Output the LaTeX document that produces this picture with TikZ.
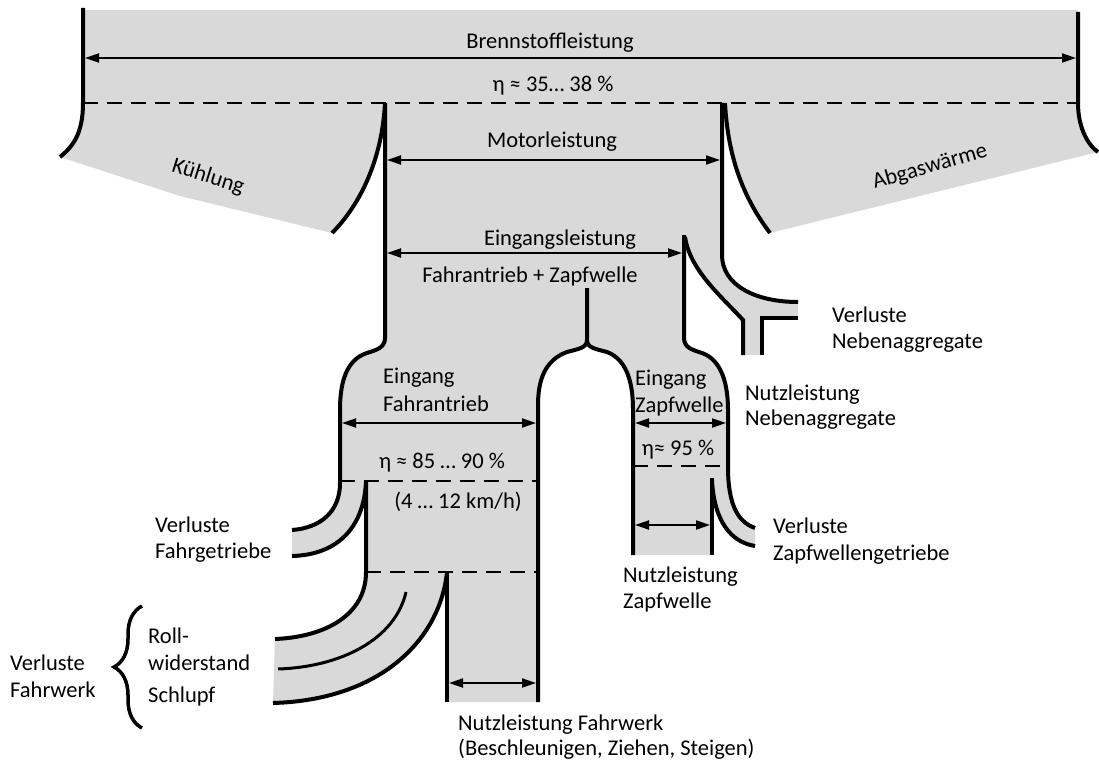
\documentclass[tikz,border=0pt]{standalone}
\usepackage{fontspec}
\setmainfont{Carlito}
\usetikzlibrary{arrows.meta,decorations.pathreplacing}
\definecolor{flow}{HTML}{D9D9D9}

\begin{document}
\begin{tikzpicture}[x=1pt,y=-1pt,
  wall/.style={line width=4pt},
  thinwall/.style={line width=3pt},
  cut/.style={line width=2.6pt, dash pattern=on 15pt off 9pt},
  dim/.style={line width=2pt, {Triangle[length=14pt,width=9pt]}-{Triangle[length=14pt,width=9pt]}},
  lbl/.style={inner sep=0pt, font=\fontsize{22.5}{27}\selectfont},
]
\useasboundingbox (0,0) rectangle (1099,762);

% ---------- grey flow areas ----------
\fill[flow] (83,10) rectangle (1078,103);
% cooling losses
\fill[flow] (83,103) .. controls (83,135) and (72,147) .. (60,157) -- (180,196) -- (332,233)
  .. controls (360,205) and (382,160) .. (385,103) -- cycle;
% exhaust heat
\fill[flow] (725,103) .. controls (728,160) and (745,200) .. (770,233) -- (1098,152)
  .. controls (1088,145) and (1078,128) .. (1078,103) -- cycle;
% engine output and its branches
\fill[flow] (385,103) -- (722,103) -- (722,255) .. controls (722,285) and (755,302) .. (798,302)
  -- (798,318) -- (762,318) -- (762,355) -- (743,355) -- (743,320)
  .. controls (720,295) and (690,270) .. (685,237) -- (684,338)
  .. controls (684,348) and (693,350) .. (702,353) .. controls (722,360) and (728,385) .. (728,410)
  -- (728,467) .. controls (728,505) and (738,522) .. (755,528) -- (755,546)
  .. controls (730,542) and (714,520) .. (712,480) -- (712,555) -- (633,555) -- (633,410)
  .. controls (633,385) and (628,360) .. (607,352) .. controls (596,349) and (587,348) .. (587,340)
  .. controls (587,348) and (578,349) .. (567,352) .. controls (545,360) and (538,380) .. (538,405)
  -- (538,702) -- (447,702) -- (447,572) .. controls (440,640) and (380,700) .. (273,703)
  -- (275,639) .. controls (325,637) and (366,615) .. (366,572) -- (366,481)
  .. controls (364,530) and (335,555) .. (292,556) -- (292,530)
  .. controls (320,528) and (340,512) .. (340,483) -- (340,410)
  .. controls (340,385) and (345,360) .. (367,353) .. controls (376,350) and (385,348) .. (385,338) -- cycle;

% ---------- walls ----------
\draw[wall] (83,8) -- (83,103) .. controls (83,135) and (72,147) .. (60,157);
\draw[wall] (1078,12) -- (1078,103) .. controls (1078,128) and (1088,145) .. (1098,152);
\draw[wall] (332,233) .. controls (360,205) and (382,160) .. (385,103);
\draw[wall] (385,103) -- (385,338) .. controls (385,348) and (376,350) .. (367,353)
  .. controls (345,360) and (340,385) .. (340,410) -- (340,483)
  .. controls (340,512) and (320,528) .. (292,530);
\draw[wall] (725,103) .. controls (728,160) and (745,200) .. (770,233);
\draw[wall] (722,103) -- (722,255) .. controls (722,285) and (755,302) .. (798,302);
\draw[wall] (798,318) -- (762,318) -- (762,355);
\draw[wall] (685,237) .. controls (690,270) and (720,295) .. (743,320) -- (743,355);
\draw[wall] (684,235) -- (684,338) .. controls (684,348) and (693,350) .. (702,353)
  .. controls (722,360) and (728,385) .. (728,410) -- (728,467)
  .. controls (728,505) and (738,522) .. (755,528);
\draw[wall] (712,478) -- (712,555);
\draw[wall] (712,480) .. controls (714,520) and (730,542) .. (755,546);
\draw[wall] (587,288) -- (587,340) .. controls (587,348) and (596,349) .. (607,352)
  .. controls (628,360) and (633,385) .. (633,410) -- (633,555);
\draw[wall] (587,340) .. controls (587,348) and (578,349) .. (567,352)
  .. controls (545,360) and (538,380) .. (538,405) -- (538,702);
\draw[wall] (366,481) -- (366,572) .. controls (366,615) and (325,637) .. (275,639);
\draw[wall] (366,481) .. controls (364,530) and (335,555) .. (292,556);
\draw[thinwall] (406,592) .. controls (395,640) and (340,667) .. (278,669);
\draw[wall] (447,572) .. controls (440,640) and (380,700) .. (273,703);
\draw[wall] (447,572) -- (447,702);

% ---------- efficiency cuts ----------
\draw[cut] (83,103) -- (1078,103);
\draw[cut] (340,481) -- (538,481);
\draw[cut] (366,572) -- (538,572);
\draw[cut] (633,466) -- (728,466);

% ---------- width arrows ----------
\coordinate (bL) at (85,58);   \coordinate (bR) at (1076,58);
\coordinate (mL) at (387,160); \coordinate (mR) at (720,160);
\coordinate (eL) at (387,253); \coordinate (eR) at (682,253);
\coordinate (fL) at (342,423); \coordinate (fR) at (536,423);
\coordinate (zL) at (635,423); \coordinate (zR) at (726,423);
\coordinate (nzL) at (635,525); \coordinate (nzR) at (710,525);
\coordinate (nfL) at (449,683); \coordinate (nfR) at (536,683);
\draw[dim] (bL) -- (bR);
\draw[dim] (mL) -- (mR);
\draw[dim] (eL) -- (eR);
\draw[dim] (fL) -- (fR);
\draw[dim] (zL) -- (zR);
\draw[dim] (nzL) -- (nzR);
\draw[dim] (nfL) -- (nfR);

% ---------- brace ----------
\draw[line width=3.5pt, decorate, decoration={brace, amplitude=28pt}] (142,728) -- (142,606);

% ---------- labels ----------
\node[lbl, anchor=base] (tBrenn) at (550,49) {Brennstoffleistung};
\node[lbl, anchor=base] (tEta1) at (553,92) {η ≈ 35… 38 \%};
\node[lbl, anchor=base] (tMotor) at (552,148) {Motorleistung};
\node[lbl, anchor=base] (tEing) at (560,245) {Eingangsleistung};
\node[lbl, anchor=base] (tFaZa) at (530,282) {Fahrantrieb + Zapfwelle};
\node[lbl, rotate=-17.5] (tKuehl) at (208,177) {Kühlung};
\node[lbl, rotate=16] (tAbgas) at (930,167) {Abgaswärme};

\node[lbl, anchor=base west] (tEF1) at (383,383) {Eingang};
\node[lbl, anchor=base west] (tEF2) at (383,411) {Fahrantrieb};
\node[lbl, anchor=base] (tEta2) at (442,468) {η ≈ 85 … 90 \%};
\node[lbl, anchor=base] (tKmh) at (458,508) {(4 … 12 km/h)};

\node[lbl, anchor=base west] (tEZ1) at (635,385) {Eingang};
\node[lbl, anchor=base west] (tEZ2) at (635,412) {Zapfwelle};
\node[lbl, anchor=base] (tEta3) at (678,455) {η≈ 95 \%};

\node[lbl, anchor=base west] (tNN1) at (745,400) {Nutzleistung};
\node[lbl, anchor=base west] (tNN2) at (745,425) {Nebenaggregate};
\node[lbl, anchor=base west] (tVN1) at (832,322) {Verluste};
\node[lbl, anchor=base west] (tVN2) at (832,348) {Nebenaggregate};
\node[lbl, anchor=base west] (tVZ1) at (773,533) {Verluste};
\node[lbl, anchor=base west] (tVZ2) at (773,560) {Zapfwellengetriebe};
\node[lbl, anchor=base west] (tNZ1) at (623,582) {Nutzleistung};
\node[lbl, anchor=base west] (tNZ2) at (623,608) {Zapfwelle};

\node[lbl, anchor=base west] (tVG1) at (155,532) {Verluste};
\node[lbl, anchor=base west] (tVG2) at (155,558) {Fahrgetriebe};
\node[lbl, anchor=base west] (tVW1) at (10,670) {Verluste};
\node[lbl, anchor=base west] (tVW2) at (10,697) {Fahrwerk};
\node[lbl, anchor=base west] (tRoll1) at (148,643) {Roll-};
\node[lbl, anchor=base west] (tRoll2) at (148,670) {widerstand};
\node[lbl, anchor=base west] (tSchl) at (148,702) {Schlupf};
\node[lbl, anchor=base west] (tNF1) at (458,730) {Nutzleistung Fahrwerk};
\node[lbl, anchor=base west] (tNF2) at (458,755) {(Beschleunigen, Ziehen, Steigen)};
\end{tikzpicture}
\end{document}
